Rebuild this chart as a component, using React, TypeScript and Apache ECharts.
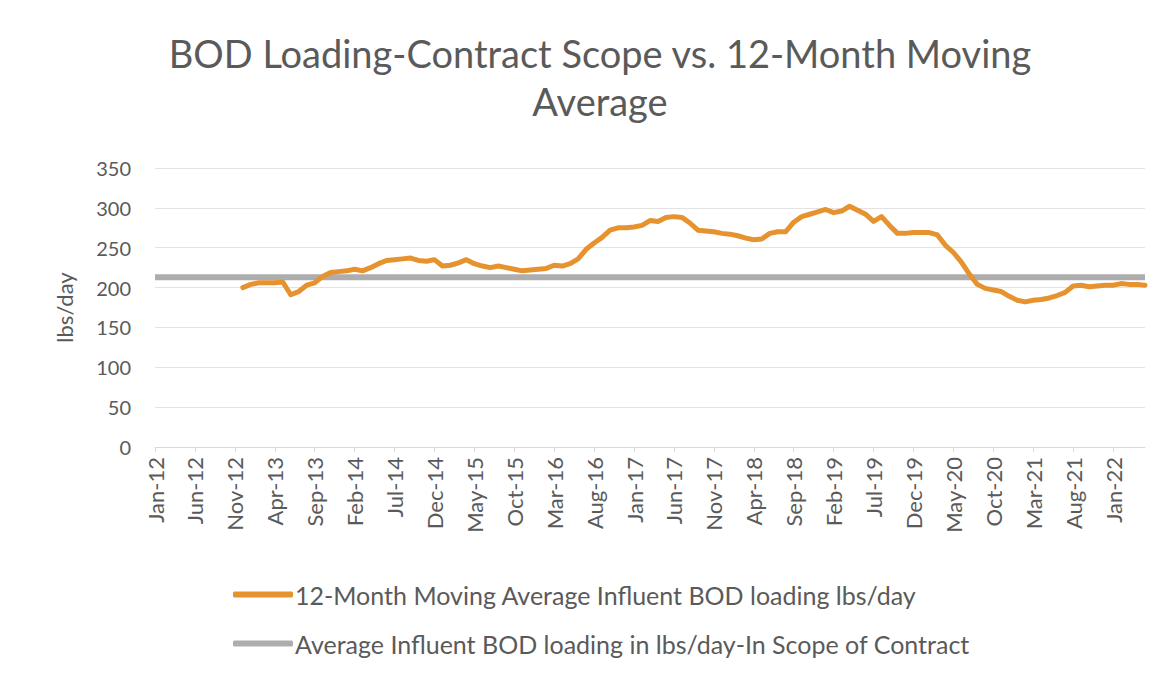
import React, { useEffect, useRef } from "react";
import * as echarts from "echarts";

const MONTH_NAMES = ["Jan", "Feb", "Mar", "Apr", "May", "Jun", "Jul", "Aug", "Sep", "Oct", "Nov", "Dec"];
const FIRST_YEAR = 12;
const MONTH_COUNT = 125; // Jan-12 .. May-22
const categories: string[] = [];
for (let i = 0; i < MONTH_COUNT; i++) {
  categories.push(MONTH_NAMES[i % 12] + "-" + (FIRST_YEAR + Math.floor(i / 12)));
}

// 12-month moving average, starting Dec-12
const MOVING_AVG_START = "Dec-12";
const movingAvgValues = [
  200, 204, 206, 206, 206, 207, 191, 195, 203, 206, 214, 219, 220,
  221, 223, 221, 225, 230, 234, 235, 236, 237, 234, 233, 235,
  227, 228, 231, 235, 230, 227, 225, 227, 225, 223, 221, 222,
  223, 224, 228, 227, 230, 236, 248, 256, 263, 272, 275, 275,
  276, 278, 284, 283, 288, 289, 288, 281, 272, 271, 270, 268,
  267, 265, 262, 260, 261, 268, 270, 270, 282, 289, 292, 295,
  298, 294, 296, 302, 297, 292, 283, 289, 278, 268, 268, 269,
  269, 269, 266, 253, 244, 232, 217, 204, 199, 197, 195, 189,
  184, 182, 184, 185, 187, 190, 194, 202, 203, 201, 202, 203,
  203, 205, 204, 204, 203,
];
const CONTRACT_AVG = 213;

const SERIES_ORANGE = "12-Month Moving Average Influent BOD loading lbs/day";
const SERIES_GRAY = "Average Influent BOD loading in lbs/day-In Scope of Contract";
const TITLE = "BOD Loading-Contract Scope vs. 12-Month Moving\nAverage";
const Y_TICKS = { min: 0, max: 350, interval: 50 };

const FONT = "Lato, 'Open Sans', sans-serif";
const TEXT_COLOR = "#5a5a5a";

export default function App() {
  const ref = useRef<HTMLDivElement>(null);
  useEffect(() => {
    if (!ref.current) return;
    const chart = echarts.init(ref.current, null, { renderer: "svg" });
    const startIdx = categories.indexOf(MOVING_AVG_START);
    const orange: (number | null)[] = categories.map((_, i) => {
      const k = i - startIdx;
      return k >= 0 && k < movingAvgValues.length ? movingAvgValues[k] : null;
    });
    const gray = categories.map(() => CONTRACT_AVG);

    chart.setOption({
      animation: false,
      backgroundColor: "#ffffff",
      textStyle: { fontFamily: FONT },
      title: {
        text: TITLE,
        left: 595,
        textAlign: "center",
        top: 24,
        textStyle: {
          fontFamily: FONT,
          fontSize: 38,
          fontWeight: "normal",
          color: TEXT_COLOR,
          lineHeight: 48,
        },
      },
      grid: { left: 155, right: 30, top: 168, bottom: 230, containLabel: false },
      legend: {
        orient: "vertical",
        left: 228,
        top: 577,
        itemGap: 24,
        itemWidth: 60,
        itemHeight: 6,
        icon: "roundRect",
        data: [SERIES_ORANGE, SERIES_GRAY],
        textStyle: { fontFamily: FONT, fontSize: 25, color: TEXT_COLOR, padding: [0, 0, 0, -3] },
      },
      xAxis: {
        type: "category",
        data: categories,
        boundaryGap: false,
        axisLine: { lineStyle: { color: "#d9d9d9", width: 1 } },
        axisTick: { show: true, interval: 4, length: 5, lineStyle: { color: "#d9d9d9" } },
        axisLabel: {
          interval: 4,
          rotate: 90,
          margin: 10,
          fontFamily: FONT,
          fontSize: 22,
          color: TEXT_COLOR,
        },
        splitLine: { show: false },
      },
      yAxis: {
        type: "value",
        min: Y_TICKS.min,
        max: Y_TICKS.max,
        interval: Y_TICKS.interval,
        name: "lbs/day",
        nameLocation: "middle",
        nameGap: 80,
        nameRotate: 90,
        nameTextStyle: { fontFamily: FONT, fontSize: 22, color: TEXT_COLOR },
        axisLine: { show: false },
        axisTick: { show: false },
        axisLabel: { fontFamily: FONT, fontSize: 20, color: TEXT_COLOR, margin: 24 },
        splitLine: { lineStyle: { color: "#e3e3e3", width: 1 } },
      },
      series: [
        {
          name: SERIES_GRAY,
          type: "line",
          data: gray,
          symbol: "none",
          z: 2,
          itemStyle: { color: "#adadad" },
          lineStyle: { color: "#adadad", width: 6 },
        },
        {
          name: SERIES_ORANGE,
          type: "line",
          data: orange,
          symbol: "none",
          z: 3,
          itemStyle: { color: "#e6922f" },
          lineStyle: { color: "#e6922f", width: 5, join: "round", cap: "round" },
        },
      ],
    });
    return () => chart.dispose();
  }, []);
  return (
    <div
      ref={ref}
      style={{ position: "fixed", left: 0, top: 0, width: 1175, height: 677 }}
    />
  );
}
